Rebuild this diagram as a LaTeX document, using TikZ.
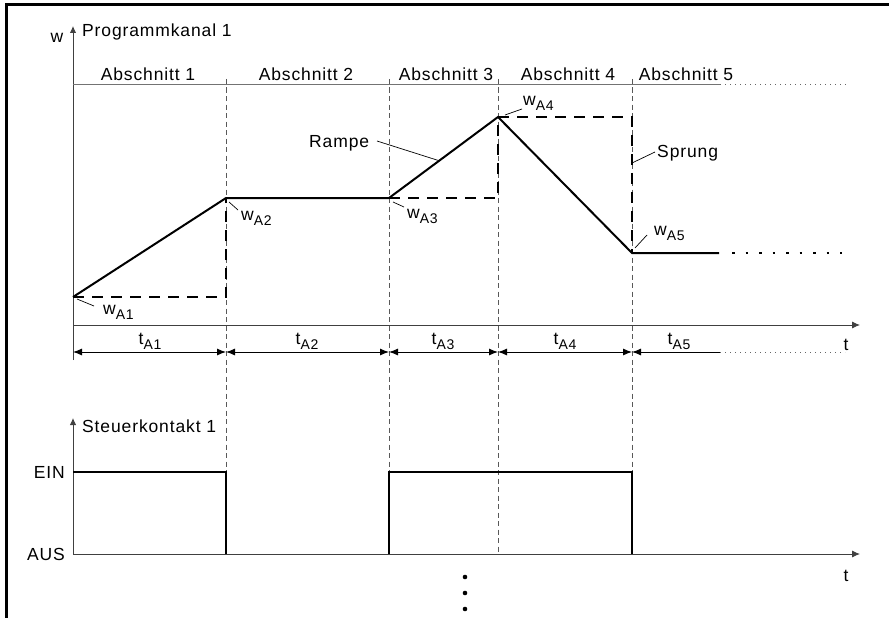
\documentclass[tikz,border=0pt]{standalone}
\usepackage{fontspec}
\setmainfont[LetterSpace=5]{Liberation Sans}
\usetikzlibrary{arrows.meta}
\newcommand{\subl}[2]{#1\raisebox{-5.5pt}{\fontsize{14}{14}\selectfont #2}}
\begin{document}
\begin{tikzpicture}[x=1pt,y=-1pt,
  axis/.style={draw=black!75, line width=0.9pt},
  axtip/.style={axis, -{Latex[length=8pt,width=7pt]}},
  smalltip/.style={axis, -{Latex[length=7pt,width=6.5pt]}},
  sect/.style={draw=black!55, line width=1pt},
  vdash/.style={draw=black!65, line width=0.9pt, dash pattern=on 5pt off 3.5pt},
  curve/.style={draw=black, line width=2pt, line join=miter},
  bdash/.style={draw=black, line width=2pt, dash pattern=on 11pt off 8pt},
  leader/.style={draw=black, line width=0.7pt},
  dimline/.style={draw=black, line width=0.9pt, {Latex[length=9pt,width=7pt]}-{Latex[length=9pt,width=7pt]}},
  dimleft/.style={draw=black, line width=0.9pt, {Latex[length=9pt,width=7pt]}-},
  fine dots/.style={draw=black!60, line width=1pt, dash pattern=on 1pt off 4pt},
  big dots/.style={draw=black, line width=2.5pt, dash pattern=on 2.5pt off 11pt},
  lbl/.style={inner sep=0pt, font=\fontsize{17.5}{20}\selectfont},
  frame/.style={draw=black, line width=3pt}
]
\useasboundingbox (0,0) rectangle (889,618);
% frame
\coordinate (fTL) at (6,5);
\coordinate (fTR) at (889,5);
\coordinate (fBL) at (6,618);
\draw[frame] (fTR) -- (4.5,5);
\draw[frame] (fTL) -- (fBL);

% key coordinates
\coordinate (wbot) at (73,360);
\coordinate (wtop) at (73,26);
\coordinate (s0) at (73,85);
\coordinate (s5) at (720,85);
\coordinate (s6) at (848,85);
\coordinate (t0) at (73,325);
\coordinate (tend) at (860,325);
\coordinate (d0) at (73,352);
\coordinate (d1) at (226,352);
\coordinate (d2) at (389,352);
\coordinate (d3) at (498,352);
\coordinate (d4) at (632,352);
\coordinate (d5) at (720,352);
\coordinate (d6) at (845,352);

% vertical dashed section boundaries
\coordinate (v1a) at (226,79); \coordinate (v1b) at (226,472);
\coordinate (v2a) at (389,79); \coordinate (v2b) at (389,472);
\coordinate (v3a) at (498,79); \coordinate (v3b) at (498,554);
\coordinate (v4a) at (632,79); \coordinate (v4b) at (632,472);
\draw[vdash] (v1a) -- (v1b);
\draw[vdash] (v2a) -- (v2b);
\draw[vdash] (v3a) -- (v3b);
\draw[vdash] (v4a) -- (v4b);

% upper axes
\draw[smalltip] (wbot) -- (wtop);
\draw[sect] (s0) -- (s5);
\draw[fine dots] (s5) -- (s6);
\draw[axtip] (t0) -- (tend);

% dimension lines
\draw[dimline] (d0) -- (d1);
\draw[dimline] (d1) -- (d2);
\draw[dimline] (d2) -- (d3);
\draw[dimline] (d3) -- (d4);
\draw[dimleft] (d4) -- (d5);
\draw[fine dots] (d5) -- (d6);

% program curve
\coordinate (P0) at (73,297);
\coordinate (P1) at (226,198);
\coordinate (P2) at (389,198);
\coordinate (P3) at (498,117);
\coordinate (P4) at (632,253);
\coordinate (P5) at (719,253);
\coordinate (P6) at (842,253);
\coordinate (Q1) at (226,297);
\coordinate (Q2) at (498,198);
\coordinate (Q3) at (632,117);
\draw[bdash] (P0) -- (Q1) -- (P1);
\draw[bdash] (P2) -- (Q2) -- (P3);
\draw[bdash] (P3) -- (Q3) -- (P4);
\draw[curve] (P0) -- (P1) -- (P2) -- (P3) -- (P4) -- (P5);
\draw[big dots] ([xshift=13pt]P5) -- (P6);

% labels upper
\node[lbl, anchor=base] (wlab) at (57,43) {w};
\node[lbl, anchor=base west] (prog) at (82,37) {Programmkanal 1};
\node[lbl, anchor=base] (ab1) at (148,81) {Abschnitt 1};
\node[lbl, anchor=base] (ab2) at (306,81) {Abschnitt 2};
\node[lbl, anchor=base] (ab3) at (446,81) {Abschnitt 3};
\node[lbl, anchor=base] (ab4) at (568,81) {Abschnitt 4};
\node[lbl, anchor=base] (ab5) at (686,81) {Abschnitt 5};

\node[lbl, anchor=base] (ta1) at (150,344) {\subl{t}{A1}};
\node[lbl, anchor=base] (ta2) at (307,344) {\subl{t}{A2}};
\node[lbl, anchor=base] (ta3) at (443,344) {\subl{t}{A3}};
\node[lbl, anchor=base] (ta4) at (565,344) {\subl{t}{A4}};
\node[lbl, anchor=base] (ta5) at (679,344) {\subl{t}{A5}};
\node[lbl, anchor=base] (tlab1) at (846,350) {t};

\node[lbl, anchor=base west] (wa1) at (103,314) {\subl{w}{A1}};
\node[lbl, anchor=base west] (wa2) at (241,220) {\subl{w}{A2}};
\node[lbl, anchor=base west] (wa3) at (407,218) {\subl{w}{A3}};
\node[lbl, anchor=base west] (wa4) at (523,105) {\subl{w}{A4}};
\node[lbl, anchor=base west] (wa5) at (654,235) {\subl{w}{A5}};
\node[lbl, anchor=base west] (rampe) at (309,147) {Rampe};
\node[lbl, anchor=base west] (sprung) at (657,157) {Sprung};

% leaders
\coordinate (l1a) at (77,299); \coordinate (l1b) at (94,306);
\coordinate (l2a) at (229,202); \coordinate (l2b) at (238,210);
\coordinate (l3a) at (393,202); \coordinate (l3b) at (404,207);
\coordinate (l4a) at (505,115); \coordinate (l4b) at (522,109);
\coordinate (l5a) at (635,248); \coordinate (l5b) at (647,235);
\coordinate (lra) at (377,141); \coordinate (lrb) at (440,161);
\coordinate (lsa) at (632,163); \coordinate (lsb) at (655,152);
\draw[leader] (l1a) -- (l1b);
\draw[leader] (l2a) -- (l2b);
\draw[leader] (l3a) -- (l3b);
\draw[leader] (l4a) -- (l4b);
\draw[leader] (l5a) -- (l5b);
\draw[leader] (lra) -- (lrb);
\draw[leader] (lsa) -- (lsb);

% lower chart
\coordinate (a0) at (73,554);
\coordinate (atop) at (73,418);
\coordinate (aend) at (860,554);
\coordinate (e0) at (73,472);
\coordinate (e1) at (226,472);
\coordinate (e1b) at (226,554);
\coordinate (e2) at (389,554);
\coordinate (e2t) at (389,472);
\coordinate (e3) at (632,472);
\coordinate (e3b) at (632,554);
\draw[smalltip] (a0) -- (atop);
\draw[axtip] (a0) -- (aend);
\draw[curve] (e0) -- (e1) -- (e1b);
\draw[curve] (e2) -- (e2t) -- (e3) -- (e3b);

\node[lbl, anchor=base west] (steuer) at (82,432) {Steuerkontakt 1};
\node[lbl, anchor=base east] (ein) at (65,478) {EIN};
\node[lbl, anchor=base east] (aus) at (65,560) {AUS};
\node[lbl, anchor=base] (tlab2) at (846,581) {t};

% continuation dots
\fill (465,577) circle (2.3pt);
\fill (465,593) circle (2.3pt);
\fill (465,609) circle (2.3pt);
\end{tikzpicture}
\end{document}
